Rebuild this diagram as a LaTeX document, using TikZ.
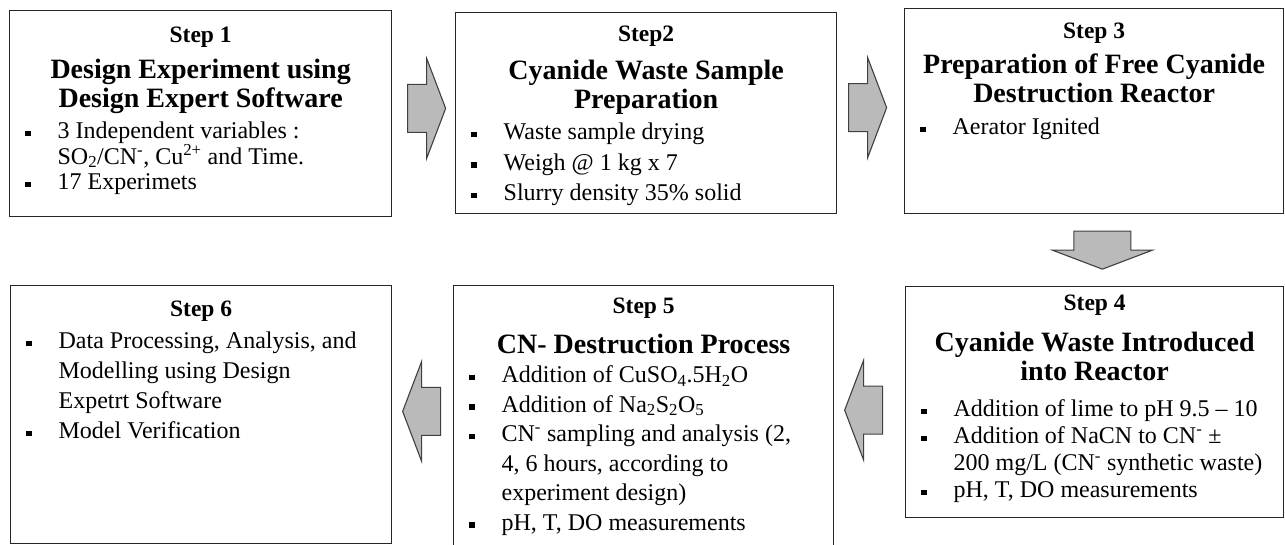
\documentclass[tikz,border=0pt]{standalone}
\usepackage{fontspec}
\setmainfont{Liberation Serif}
\usetikzlibrary{calc}

\newcommand{\steptitle}[2][30pt]{{\centering\fontsize{23.5}{28}\bfseries\rule{0pt}{#1}#2\par}}
\newcommand{\stephead}[2][37pt]{\vspace{\dimexpr#1-29pt\relax}{\centering\fontsize{28}{29}\bfseries #2\par}}
\newcommand{\stepitem}{\par\noindent\llap{\rule[2.5pt]{5.5pt}{5.5pt}\hspace{27pt}}}
\newenvironment{steplist}[2]{\par\vspace{\dimexpr#2-#1\relax}\fontsize{24}{#1}\selectfont\raggedright\leftskip=48pt\relax}{\par}

\tikzset{
    stepbox/.style={draw=black!85, line width=1.3pt, fill=white, inner sep=0pt, anchor=north west},
    blockarrow/.style={draw=black!75, line width=1.1pt, fill=black!27, line join=miter},
    pics/bigarrow/.style={code={
        \draw[blockarrow] (-19,-#1) -- (0,-#1) -- (0,-50) -- (19,0) -- (0,50) -- (0,#1) -- (-19,#1) -- cycle;
    }},
}

\begin{document}
\begin{tikzpicture}[x=1pt, y=-1pt]
    \useasboundingbox (0,0) rectangle (1285,544);
    % first row
    \node[stepbox] (s1) at (9,10) {\parbox[t][206pt][t]{382pt}{%
        \steptitle[32pt]{Step 1}
        \stephead[36pt]{Design Experiment using\\Design Expert Software}
        \begin{steplist}{25.5pt}{31pt}
            \stepitem 3 Independent variables :\\
            SO\textsubscript{2}/CN\textsuperscript{-}, Cu\textsuperscript{2+} and Time.
            \stepitem 17 Experimets
        \end{steplist}}};
    \node[stepbox] (s2) at (455,12) {\parbox[t][201pt][t]{381pt}{%
        \steptitle[29pt]{Step2}
        \stephead[38pt]{Cyanide Waste Sample\\Preparation}
        \begin{steplist}{30.5pt}{31pt}
            \stepitem Waste sample drying
            \stepitem Weigh @ 1 kg x 7
            \stepitem Slurry density 35\% solid
        \end{steplist}}};
    \node[stepbox] (s3) at (904,8) {\parbox[t][205pt][t]{379pt}{%
        \steptitle[30pt]{Step 3}
        \stephead[35pt]{Preparation of Free Cyanide\\Destruction Reactor}
        \begin{steplist}{30pt}{32pt}
            \stepitem Aerator Ignited
        \end{steplist}}};
    % second row
    \node[stepbox] (s4) at (905,286) {\parbox[t][231pt][t]{378pt}{%
        \steptitle[24pt]{Step 4}
        \stephead[41pt]{Cyanide Waste Introduced\\into Reactor}
        \begin{steplist}{27pt}{36pt}
            \stepitem Addition of lime to pH 9.5 -- 10
            \stepitem Addition of NaCN to CN\textsuperscript{-} ±\\
            200 mg/L (CN\textsuperscript{-} synthetic waste)
            \stepitem pH, T, DO measurements
        \end{steplist}}};
    \node[stepbox] (s5) at (453,285) {\parbox[t][265pt][t]{380pt}{%
        \steptitle[28pt]{Step 5}
        \stephead[40pt]{CN- Destruction Process}
        \begin{steplist}{29.5pt}{29pt}
            \stepitem Addition of CuSO\textsubscript{4}.5H\textsubscript{2}O
            \stepitem Addition of Na\textsubscript{2}S\textsubscript{2}O\textsubscript{5}
            \stepitem CN\textsuperscript{-} sampling and analysis (2,\\
            4, 6 hours, according to\\
            experiment design)
            \stepitem pH, T, DO measurements
        \end{steplist}}};
    \node[stepbox] (s6) at (10,285) {\parbox[t][258pt][t]{381pt}{%
        \steptitle[31pt]{Step 6}
        \begin{steplist}{30pt}{32pt}
            \stepitem Data Processing, Analysis, and\\
            Modelling using Design\\
            Expetrt Software
            \stepitem Model Verification
        \end{steplist}}};
    % arrows between the steps
    \pic at ($(s1.east)!0.5!(s2.west)+(3,-5)$) {bigarrow=24};
    \pic at ($(s2.east)!0.5!(s3.west)+(-3,-4.5)$) {bigarrow=24};
    \pic[rotate=-90] at ($(s3.south)!0.5!(s4.north)+(8,0)$) {bigarrow=28.5};
    \pic[rotate=180] at ($(s5.east)!0.5!(s4.west)+(-6,0)$) {bigarrow=24};
    \pic[rotate=180] at ($(s6.east)!0.5!(s5.west)+(-1,-5)$) {bigarrow=24};
\end{tikzpicture}
\end{document}
